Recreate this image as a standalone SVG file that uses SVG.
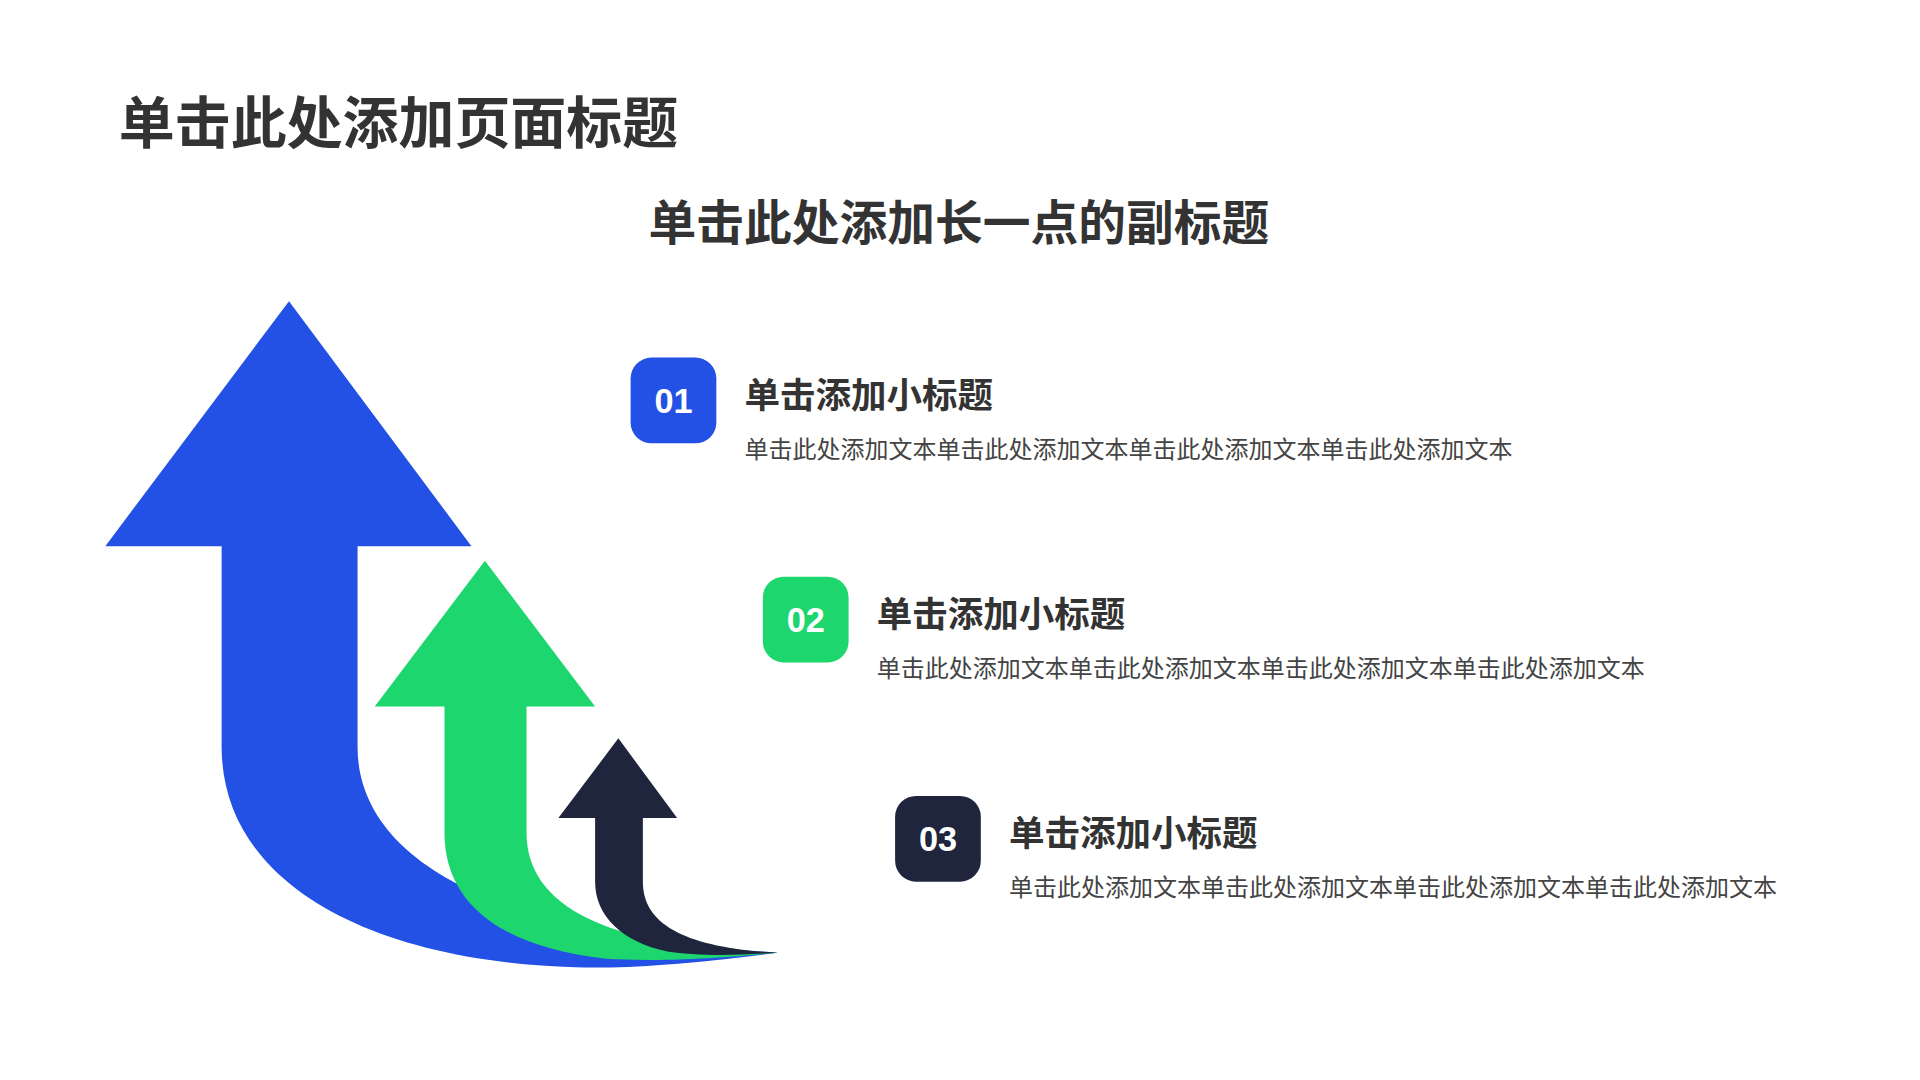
<svg xmlns="http://www.w3.org/2000/svg" width="1920" height="1080" viewBox="0 0 1920 1080">
<style>
text{font-family:"Noto Sans CJK SC","Liberation Sans",sans-serif;fill:#333}
.t{font-weight:bold;font-size:45.7px}
.s{font-weight:bold;font-size:39px}
.h{font-weight:bold;font-size:29px}
.b{font-size:19.6px;fill:#444}
.n{font-family:"Liberation Sans",Arial,sans-serif;font-weight:bold;font-size:28px;fill:#fff}
</style>
<rect width="1920" height="1080" fill="#fff"/>
<g transform="scale(1.2245)">
<text class="t" x="97" y="117">单击此处添加页面标题</text>
<text class="s" x="783" y="196" text-anchor="middle">单击此处添加长一点的副标题</text>
<g id="arrows">
<path fill="#2350E5" d="M236,246 L385,446 L292,446 L292,610 C292,700 400,765 635,778 C560,788 510,791 470,790 C300,785 181,720 181,610 L181,446 L86,446 Z"/>
<path fill="#1ED66E" d="M396,458 L486,577 L430,577 L430,680 C430,742 500,774 635,778 C570,784 530,785 495,783 C405,773 363,735 363,680 L363,577 L306,577 Z"/>
<path fill="#1E253D" d="M505,603 L553,668 L525,668 L525,720 C525,756 562,774 635,778 C595,781 565,780 545,777 C508,769 486,748 486,720 L486,668 L456,668 Z"/>
</g>
<g id="item1">
<rect x="515" y="292" width="70" height="70" rx="17" fill="#2350E5"/>
<text class="n" x="550" y="337" text-anchor="middle">01</text>
<text class="h" x="608" y="333">单击添加小标题</text>
<text class="b" x="608" y="374">单击此处添加文本单击此处添加文本单击此处添加文本单击此处添加文本</text>
</g>
<g id="item2">
<rect x="623" y="471" width="70" height="70" rx="17" fill="#1ED66E"/>
<text class="n" x="658" y="516" text-anchor="middle">02</text>
<text class="h" x="716" y="512">单击添加小标题</text>
<text class="b" x="716" y="553">单击此处添加文本单击此处添加文本单击此处添加文本单击此处添加文本</text>
</g>
<g id="item3">
<rect x="731" y="650" width="70" height="70" rx="17" fill="#1E253D"/>
<text class="n" x="766" y="695" text-anchor="middle">03</text>
<text class="h" x="824" y="691">单击添加小标题</text>
<text class="b" x="824" y="732">单击此处添加文本单击此处添加文本单击此处添加文本单击此处添加文本</text>
</g>
</g>
</svg>
